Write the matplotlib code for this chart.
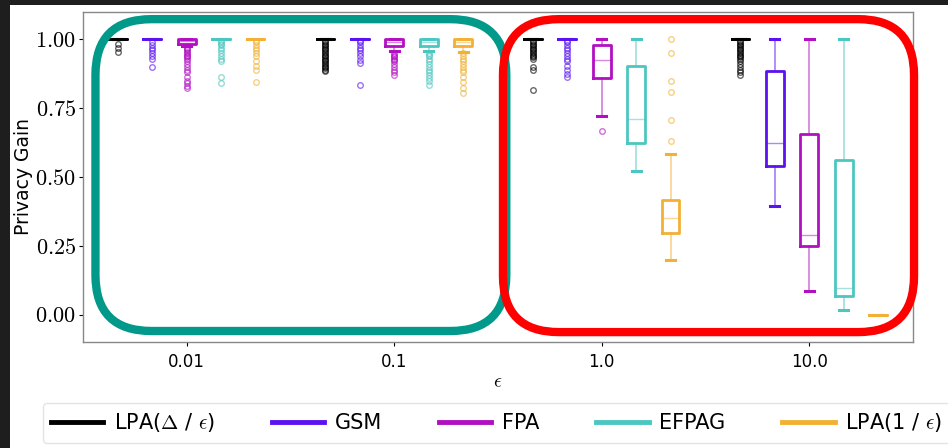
import matplotlib
matplotlib.use('Agg')
import matplotlib.pyplot as plt
from matplotlib.patches import FancyBboxPatch, Rectangle
from matplotlib.lines import Line2D
from matplotlib.ticker import FuncFormatter

plt.rcParams['mathtext.fontset'] = 'cm'

eps_labels = ['0.01', '0.1', '1.0', '10.0']
methods = ['LPA($\\Delta$ / $\\epsilon$)', 'GSM', 'FPA', 'EFPAG', 'LPA(1 / $\\epsilon$)']
colors = ['#000000', '#5a12f0', '#b20fc2', '#4cc6c0', '#f2b134']

# box statistics per method, one entry per epsilon
lpa_delta_q1 = [1.0, 1.0, 1.0, 1.0]
lpa_delta_med = [1.0, 1.0, 1.0, 1.0]
lpa_delta_q3 = [1.0, 1.0, 1.0, 1.0]
lpa_delta_lo = [1.0, 1.0, 1.0, 1.0]
lpa_delta_hi = [1.0, 1.0, 1.0, 1.0]
lpa_delta_fliers = [
    [0.985, 0.97, 0.955],
    [0.995, 0.99, 0.985, 0.98, 0.975, 0.97, 0.965, 0.96, 0.955, 0.95, 0.945, 0.94,
     0.935, 0.93, 0.925, 0.92, 0.915, 0.91, 0.905, 0.90, 0.895, 0.89, 0.885],
    [0.995, 0.99, 0.985, 0.98, 0.975, 0.97, 0.965, 0.96, 0.955, 0.95, 0.945, 0.94,
     0.935, 0.93, 0.90, 0.89, 0.815],
    [0.995, 0.99, 0.985, 0.98, 0.975, 0.97, 0.965, 0.96, 0.955, 0.95, 0.945, 0.94,
     0.935, 0.93, 0.92, 0.91, 0.90, 0.89, 0.88, 0.87],
]

gsm_q1 = [1.0, 1.0, 1.0, 0.541]
gsm_med = [1.0, 1.0, 1.0, 0.625]
gsm_q3 = [1.0, 1.0, 1.0, 0.885]
gsm_lo = [1.0, 1.0, 1.0, 0.394]
gsm_hi = [1.0, 1.0, 1.0, 1.0]
gsm_fliers = [
    [0.99, 0.98, 0.97, 0.96, 0.95, 0.94, 0.93, 0.90],
    [0.995, 0.99, 0.98, 0.97, 0.96, 0.95, 0.94, 0.925, 0.915, 0.835],
    [0.995, 0.99, 0.98, 0.97, 0.96, 0.95, 0.94, 0.93, 0.92, 0.905, 0.89, 0.875, 0.865],
    [],
]

fpa_q1 = [0.985, 0.977, 0.86, 0.25]
fpa_med = [0.995, 0.99, 0.925, 0.29]
fpa_q3 = [1.0, 1.0, 0.98, 0.655]
fpa_lo = [0.978, 0.957, 0.72, 0.085]
fpa_hi = [1.0, 1.0, 1.0, 1.0]
fpa_fliers = [
    [0.97, 0.965, 0.96, 0.955, 0.95, 0.945, 0.94, 0.935, 0.93, 0.92, 0.91, 0.90,
     0.89, 0.88, 0.865, 0.85, 0.84, 0.83, 0.825],
    [0.95, 0.945, 0.94, 0.935, 0.93, 0.925, 0.92, 0.91, 0.90, 0.89, 0.88, 0.87],
    [0.667],
    [],
]

efpag_q1 = [1.0, 0.978, 0.623, 0.067]
efpag_med = [1.0, 0.99, 0.711, 0.097]
efpag_q3 = [1.0, 1.0, 0.905, 0.561]
efpag_lo = [1.0, 0.958, 0.52, 0.018]
efpag_hi = [1.0, 1.0, 1.0, 1.0]
efpag_fliers = [
    [0.995, 0.99, 0.985, 0.98, 0.97, 0.96, 0.95, 0.94, 0.93, 0.92, 0.865, 0.84],
    [0.95, 0.945, 0.94, 0.93, 0.92, 0.91, 0.90, 0.89, 0.88, 0.87, 0.86, 0.85, 0.835],
    [],
    [],
]

lpa_one_q1 = [1.0, 0.975, 0.295, 0.0]
lpa_one_med = [1.0, 0.99, 0.352, 0.0]
lpa_one_q3 = [1.0, 1.0, 0.416, 0.0]
lpa_one_lo = [1.0, 0.955, 0.197, 0.0]
lpa_one_hi = [1.0, 1.0, 0.582, 0.0]
lpa_one_fliers = [
    [0.995, 0.99, 0.98, 0.97, 0.96, 0.95, 0.94, 0.92, 0.905, 0.89, 0.845],
    [0.95, 0.94, 0.93, 0.92, 0.91, 0.90, 0.89, 0.88, 0.865, 0.845, 0.825, 0.805],
    [1.0, 0.95, 0.85, 0.81, 0.709, 0.632],
    [],
]

all_stats = [
    (lpa_delta_q1, lpa_delta_med, lpa_delta_q3, lpa_delta_lo, lpa_delta_hi, lpa_delta_fliers),
    (gsm_q1, gsm_med, gsm_q3, gsm_lo, gsm_hi, gsm_fliers),
    (fpa_q1, fpa_med, fpa_q3, fpa_lo, fpa_hi, fpa_fliers),
    (efpag_q1, efpag_med, efpag_q3, efpag_lo, efpag_hi, efpag_fliers),
    (lpa_one_q1, lpa_one_med, lpa_one_q3, lpa_one_lo, lpa_one_hi, lpa_one_fliers),
]

fig = plt.figure(figsize=(9.48, 4.48), dpi=100)
fig.patch.set_facecolor('#1e1e1e')
fig.patches.append(Rectangle((10 / 948, 0), 1, 1 - 5 / 448, transform=fig.transFigure,
                             facecolor='white', edgecolor='none', zorder=-10))
ax = fig.add_axes([83 / 948, 1 - 342 / 448, 830 / 948, 330 / 448])

offset = 0.166
for m, (q1, med, q3, lo, hi, fl) in enumerate(all_stats):
    c = colors[m]
    stats = []
    for g in range(len(eps_labels)):
        stats.append(dict(q1=q1[g], med=med[g], q3=q3[g], whislo=lo[g],
                          whishi=hi[g], fliers=fl[g]))
    pos = [g + (m - 2) * offset for g in range(len(eps_labels))]
    ax.bxp(stats, positions=pos, widths=0.085, manage_ticks=False,
           boxprops=dict(color=c, linewidth=2.0),
           whiskerprops=dict(color=c, linewidth=1.2, alpha=0.55),
           capprops=dict(color=c, linewidth=2.2),
           medianprops=dict(color=c, linewidth=1.0, alpha=0.5),
           flierprops=dict(marker='o', markerfacecolor='none', markeredgecolor=c,
                           markersize=4, markeredgewidth=1.0, alpha=0.6))

ax.set_xlim(-0.5, 3.5)
ax.set_ylim(-0.1, 1.1)
ax.set_xticks(range(len(eps_labels)))
ax.set_xticklabels(eps_labels, fontsize=12)
ax.set_yticks([0.0, 0.25, 0.5, 0.75, 1.0])
ax.yaxis.set_major_formatter(FuncFormatter(lambda v, p: '$%.2f$' % v))
ax.tick_params(axis='y', labelsize=16, length=3, pad=2)
ax.tick_params(axis='x', length=3, pad=5)
for s in ax.spines.values():
    s.set_color('#888888')
    s.set_linewidth(1.0)
ax.set_xlabel('$\\epsilon$', fontsize=14, labelpad=1)
ax.set_ylabel('Privacy Gain', fontsize=13.5)
ax.yaxis.set_label_coords(-0.06, 0.5)

# highlight boxes around the low and high epsilon groups
aspect = (1.2 / 330) / (4.0 / 830)
ax.add_patch(FancyBboxPatch((-0.44, -0.06), 1.98, 1.134,
                            boxstyle='round,pad=0,rounding_size=0.27',
                            mutation_aspect=aspect, fill=False,
                            edgecolor='#00998a', linewidth=6, clip_on=False, zorder=10))
ax.add_patch(FancyBboxPatch((1.524, -0.064), 1.981, 1.138,
                            boxstyle='round,pad=0,rounding_size=0.27',
                            mutation_aspect=aspect, fill=False,
                            edgecolor='#ff0000', linewidth=6, clip_on=False, zorder=10))

handles = [Line2D([], [], color=c, linewidth=3.5) for c in colors]
fig.legend(handles, methods, loc='upper left', bbox_to_anchor=(43 / 948, 1 - 403 / 448),
           ncol=5, fontsize=15, handlelength=2.5, handletextpad=0.5, columnspacing=2.75,
           frameon=True, edgecolor='#dddddd', borderaxespad=0)

fig.savefig('out.png', dpi=100, facecolor=fig.get_facecolor())
